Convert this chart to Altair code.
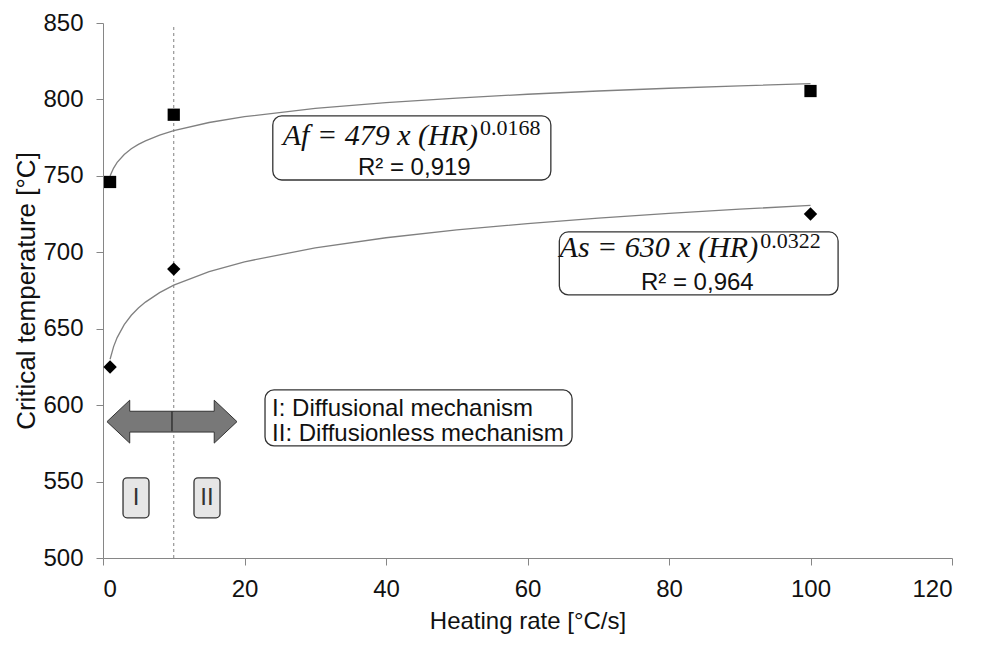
import altair as alt
import pandas as pd

# ---- data ----
HR_POINTS = [1, 10, 100]
AF_POINTS = [746, 790, 805.5]
AS_POINTS = [625, 689, 725]

CURVE_HR = [1, 1.5, 2, 3, 4, 5, 6, 8, 10, 15, 20, 30, 40, 50, 60, 70, 80, 90, 100]
AF_CURVE = [750.0, 755.1, 758.8, 764.0, 767.7, 770.6, 772.9, 776.7, 779.6, 784.9,
            788.7, 794.1, 797.9, 800.9, 803.4, 805.5, 807.3, 808.9, 810.3]
AS_CURVE = [630.0, 638.3, 644.2, 652.7, 658.8, 663.5, 667.4, 673.6, 678.5, 687.4,
            693.8, 702.9, 709.5, 714.6, 718.8, 722.4, 725.5, 728.2, 730.7]

X_TICKS = [0, 20, 40, 60, 80, 100, 120]
Y_TICKS = [500, 550, 600, 650, 700, 750, 800, 850]

X_TITLE = "Heating rate [°C/s]"
Y_TITLE = "Critical temperature [°C]"

AF_EQ = "Af = 479 x (HR)"
AF_EXP = "0.0168"
AF_R2 = "R² = 0,919"
AS_EQ = "As = 630 x (HR)"
AS_EXP = "0.0322"
AS_R2 = "R² = 0,964"
LEGEND_LINES = ["I: Diffusional mechanism", "II: Diffusionless mechanism"]
REGION_LABELS = ["I", "II"]

# ---- encodings ----
xs = alt.Scale(domain=[0, 120], nice=False, zero=False)
ys = alt.Scale(domain=[500, 850], nice=False, zero=False)
AXIS_COLOR = "#868686"
x_axis = alt.Axis(values=X_TICKS, grid=False, title=X_TITLE, domainColor=AXIS_COLOR,
                  tickColor=AXIS_COLOR, tickSize=7, labelPadding=12, titlePadding=8,
                  labelFontSize=24, titleFontSize=24, labelColor="#111", titleColor="#111",
                  titleFontWeight="normal", labelFont="Liberation Sans", titleFont="Liberation Sans")
y_axis = alt.Axis(values=Y_TICKS, grid=False, title=Y_TITLE, domainColor=AXIS_COLOR,
                  tickColor=AXIS_COLOR, tickSize=7, labelPadding=13, titlePadding=3,
                  labelFontSize=24, titleFontSize=26, labelColor="#111", titleColor="#111",
                  titleFontWeight="normal", labelFont="Liberation Sans", titleFont="Liberation Sans")

X = alt.X("x:Q", scale=xs, axis=x_axis)
Y = alt.Y("y:Q", scale=ys, axis=y_axis)

curves = pd.DataFrame({
    "x": CURVE_HR * 2,
    "y": AF_CURVE + AS_CURVE,
    "s": ["Af"] * len(CURVE_HR) + ["As"] * len(CURVE_HR),
})
af_pts = pd.DataFrame({"x": HR_POINTS, "y": AF_POINTS})
as_pts = pd.DataFrame({"x": HR_POINTS, "y": AS_POINTS})

# annotation placement (data coordinates)
boxes = pd.DataFrame({
    "x": [24.0, 64.5, 22.9], "x2": [63.3, 103.9, 66.3],
    "y": [789.2, 713.3, 610.0], "y2": [747.3, 672.1, 573.3],
})
small_boxes = pd.DataFrame({
    "x": [2.83, 12.86], "x2": [6.5, 16.54],
    "y": [552.4, 552.4], "y2": [526.3, 526.3],
})
small_text = pd.DataFrame({"x": [4.67, 14.7], "y": [539.3, 539.3], "t": REGION_LABELS})
eq_text = pd.DataFrame({"x": [53.0, 92.6], "y": [770.2, 697.0], "t": [AF_EQ, AS_EQ]})
exp_text = pd.DataFrame({"x": [53.3, 92.9], "y": [776.7, 702.8], "t": [AF_EXP, AS_EXP]})
r2_text = pd.DataFrame({"x": [44.0, 84.0], "y": [750.6, 675.4], "t": [AF_R2, AS_R2]})
leg_text = pd.DataFrame({"x": [23.9, 23.9], "y": [592.6, 576.6], "t": LEGEND_LINES})
vline = pd.DataFrame({"x": [10], "y": [500], "y2": [848]})
arrow = pd.DataFrame({"x": [9.75], "y": [589.2]})
divider = pd.DataFrame({"x": [9.75], "y": [582.9], "y2": [595.9]})

ARROW_PATH = ("M -1 0 L -0.65 -0.33 L -0.65 -0.16 L 0.65 -0.16 L 0.65 -0.33 L 1 0 "
              "L 0.65 0.33 L 0.65 0.16 L -0.65 0.16 L -0.65 0.33 Z")

layers = [
    alt.Chart(vline).mark_rule(color="#808080", strokeDash=[3, 3], strokeWidth=1).encode(
        x=X, y=Y, y2="y2:Q"),
    alt.Chart(curves).mark_line(color="#808080", strokeWidth=1.3).encode(
        x=X, y=Y, detail="s:N"),
    alt.Chart(boxes).mark_rect(fill="white", stroke="#333", strokeWidth=1.3, cornerRadius=9).encode(
        x=X, x2="x2:Q", y=Y, y2="y2:Q"),
    alt.Chart(small_boxes).mark_rect(fill="#e6e6e6", stroke="#333", strokeWidth=1.3, cornerRadius=4).encode(
        x=X, x2="x2:Q", y=Y, y2="y2:Q"),
    alt.Chart(small_text).mark_text(font="Liberation Sans", fontSize=24, color="#333",
                                    align="center", baseline="middle").encode(x=X, y=Y, text="t:N"),
    alt.Chart(arrow).mark_point(shape=ARROW_PATH, size=16900, filled=True, fill="#787878",
                                stroke="#333", strokeWidth=1, opacity=1).encode(x=X, y=Y),
    alt.Chart(divider).mark_rule(color="#222", strokeWidth=1.2).encode(x=X, y=Y, y2="y2:Q"),
    alt.Chart(af_pts).mark_point(shape="square", size=150, filled=True, color="black", opacity=1).encode(
        x=X, y=Y),
    alt.Chart(as_pts).mark_point(shape="diamond", size=180, filled=True, color="black", opacity=1).encode(
        x=X, y=Y),
    alt.Chart(eq_text).mark_text(font="Liberation Serif", fontStyle="italic", fontSize=30, color="#111",
                                 align="right", baseline="alphabetic").encode(x=X, y=Y, text="t:N"),
    alt.Chart(exp_text).mark_text(font="Liberation Serif", fontSize=22, color="#111",
                                  align="left", baseline="alphabetic").encode(x=X, y=Y, text="t:N"),
    alt.Chart(r2_text).mark_text(font="Liberation Sans", fontSize=24, color="#111",
                                 align="center", baseline="alphabetic").encode(x=X, y=Y, text="t:N"),
    alt.Chart(leg_text).mark_text(font="Liberation Sans", fontSize=24, color="#111",
                                  align="left", baseline="alphabetic").encode(x=X, y=Y, text="t:N"),
]

chart = alt.layer(*layers).properties(
    width=849, height=535,
    autosize=alt.AutoSizeParams(type="none"),
    padding={"left": 103, "top": 23, "right": 29, "bottom": 87},
    background="white",
).configure_view(stroke=None)

chart.save("out.html", embed_options={"renderer": "svg", "actions": False})
